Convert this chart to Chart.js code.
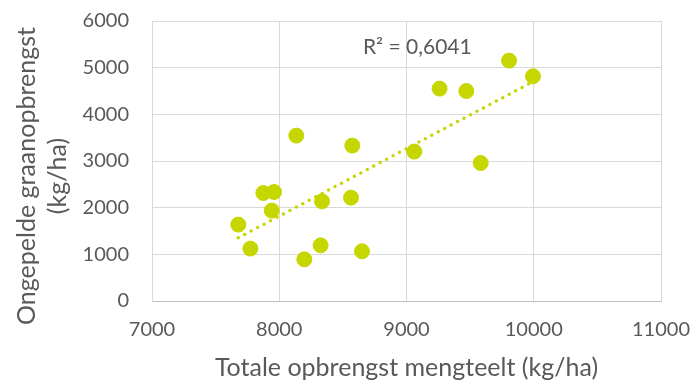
<!DOCTYPE html>
<html>
<head>
<meta charset="utf-8">
<script src="https://cdn.jsdelivr.net/npm/chart.js@4"></script>
<style>
  html, body { margin: 0; padding: 0; background: #fff; }
  #wrap { width: 692px; height: 385px; }
</style>
</head>
<body>
<div id="wrap"><canvas id="scatterChart"></canvas></div>
<script>
// data
var totaleOpbrengst = [7678, 7773, 7875, 7959, 7941, 8134, 8197, 8336, 8325, 8574, 8564, 8650, 9061, 9260, 9470, 9583, 9806, 9994];
var graanOpbrengst  = [1637, 1123, 2314, 2336, 1937, 3544,  893, 2136, 1193, 3330, 2215, 1065, 3201, 4551, 4500, 2957, 5151, 4815];
var xTicks = [7000, 8000, 9000, 10000, 11000];
var yTicks = [0, 1000, 2000, 3000, 4000, 5000, 6000];
var xTitle = "Totale opbrengst mengteelt (kg/ha)";
var yTitle = ["Ongepelde graanopbrengst", "(kg/ha)"];
var rSquaredLabel = "R² = 0,6041";

var GREEN = "#C6D600";
var TEXT = "#595959";
var GRID = "#D9D9D9";
var FONT = "Lato, 'Liberation Sans', sans-serif";

var points = totaleOpbrengst.map(function (x, i) { return {x: x, y: graanOpbrengst[i]}; });

// linear trendline (least squares), like Excel
function trend(xs, ys) {
    var n = xs.length, sx = 0, sy = 0, sxx = 0, sxy = 0;
    for (var i = 0; i < n; i++) {
        sx += xs[i]; sy += ys[i];
        sxx += xs[i] * xs[i]; sxy += xs[i] * ys[i];
    }
    var b = (n * sxy - sx * sy) / (n * sxx - sx * sx);
    var a = (sy - b * sx) / n;
    var x0 = Math.min.apply(null, xs), x1 = Math.max.apply(null, xs);
    return [{x: x0, y: a + b * x0}, {x: x1, y: a + b * x1}];
}

// R² label (data space) + y axis title (Excel centres it a bit lower than the plot)
var labelsPlugin = {
    id: "extraLabels",
    afterDatasetsDraw: function (chart) {
        var ctx = chart.ctx;
        ctx.save();
        ctx.font = "21px " + FONT;
        ctx.fillStyle = TEXT;
        ctx.textAlign = "center";
        ctx.textBaseline = "middle";
        ctx.fillText(rSquaredLabel,
            chart.scales.x.getPixelForValue(9085),
            chart.scales.y.getPixelForValue(5440));

        // y title, two lines, rotated
        ctx.font = "25px " + FONT;
        ctx.textBaseline = "alphabetic";
        ctx.translate(0, 176);
        ctx.rotate(-Math.PI / 2);
        ctx.fillText(yTitle[0], 0, 35);
        ctx.fillText(yTitle[1], 0, 66);
        ctx.restore();
    }
};

var ctx = document.getElementById("scatterChart").getContext("2d");
new Chart(ctx, {
    type: "scatter",
    data: {
        datasets: [
            {
                type: "line",
                label: "Trend",
                data: trend(totaleOpbrengst, graanOpbrengst),
                borderColor: GREEN,
                borderWidth: 3.5,
                borderDash: [0, 7.3],
                borderCapStyle: "round",
                pointRadius: 0,
                fill: false,
                order: 0
            },
            {
                label: "Ongepelde graanopbrengst",
                data: points,
                backgroundColor: GREEN,
                borderColor: GREEN,
                pointRadius: 7.5,
                pointHoverRadius: 7.5,
                order: 1
            }
        ]
    },
    options: {
        responsive: true,
        maintainAspectRatio: false,
        animation: false,
        devicePixelRatio: 1,
        layout: { padding: { left: 0, right: 31, top: 21, bottom: 0 } },
        plugins: {
            legend: { display: false },
            tooltip: { enabled: false }
        },
        scales: {
            x: {
                type: "linear",
                min: xTicks[0],
                max: xTicks[xTicks.length - 1],
                afterBuildTicks: function (scale) {
                    scale.ticks = xTicks.map(function (v) { return {value: v}; });
                },
                afterFit: function (scale) {
                    scale.height = 84;
                    scale.paddingLeft = 0;
                    scale.paddingRight = 0;
                },
                grid: { color: GRID, lineWidth: 1, drawTicks: false },
                border: { color: "#BFBFBF", width: 1 },
                ticks: {
                    color: TEXT,
                    font: { family: FONT, size: 20 },
                    padding: 17,
                    maxRotation: 0,
                    callback: function (v) { return String(v); }
                },
                title: {
                    display: true,
                    text: xTitle,
                    color: TEXT,
                    font: { family: FONT, size: 25 },
                    padding: { top: 0, bottom: 2 }
                }
            },
            y: {
                type: "linear",
                min: yTicks[0],
                max: yTicks[yTicks.length - 1],
                afterBuildTicks: function (scale) {
                    scale.ticks = yTicks.map(function (v) { return {value: v}; });
                },
                afterFit: function (scale) {
                    scale.width = 152;
                    scale.paddingTop = 0;
                    scale.paddingBottom = 0;
                },
                grid: { color: GRID, lineWidth: 1, drawTicks: false },
                border: { color: GRID, width: 1 },
                ticks: {
                    color: TEXT,
                    font: { family: FONT, size: 20 },
                    padding: 23,
                    callback: function (v) { return String(v); }
                }
            }
        }
    },
    plugins: [labelsPlugin]
});
</script>
</body>
</html>
